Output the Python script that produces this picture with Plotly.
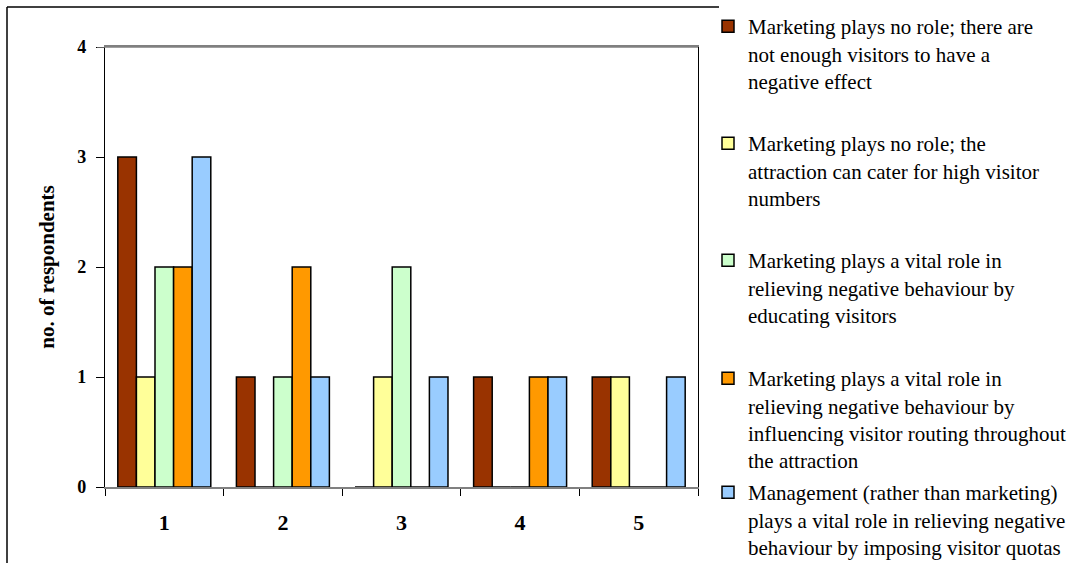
import plotly.graph_objects as go

# Survey categories (x axis) and the number of respondents per answer
categories = ["1", "2", "3", "4", "5"]

series_names = [
    "Marketing plays no role; there are<br>not enough visitors to have a<br>negative effect",
    "Marketing plays no role; the<br>attraction can cater for high visitor<br>numbers",
    "Marketing plays a vital role in<br>relieving negative behaviour by<br>educating visitors",
    "Marketing plays a vital role in<br>relieving negative behaviour by<br>influencing visitor routing throughout<br>the attraction",
    "Management (rather than marketing)<br>plays a vital role in relieving negative<br>behaviour by imposing visitor quotas",
]

no_role_few_visitors = [3, 1, 0, 1, 1]
no_role_high_capacity = [1, 0, 1, 0, 1]
educating_visitors = [2, 1, 2, 0, 0]
visitor_routing = [2, 2, 0, 1, 0]
visitor_quotas = [3, 1, 1, 1, 1]

series_values = [
    no_role_few_visitors,
    no_role_high_capacity,
    educating_visitors,
    visitor_routing,
    visitor_quotas,
]

colors = ["#993300", "#FFFF99", "#CCFFCC", "#FF9900", "#99CCFF"]

y_ticks = [0, 1, 2, 3, 4]

W, H = 1091, 563
FONT = "Liberation Serif, Times New Roman, serif"

# Vertical position (px from top) of each legend entry
legend_tops = [6, 123, 240, 358, 472]

fig = go.Figure()
for i, (name, vals, col) in enumerate(zip(series_names, series_values, colors)):
    fig.add_trace(go.Bar(
        x=categories,
        y=vals,
        name=name,
        marker=dict(color=col, line=dict(color="black", width=1.5)),
        legend="legend" if i == 0 else f"legend{i + 1}",
    ))

legend_common = dict(
    xref="container", yref="container",
    x=708 / W, xanchor="left", yanchor="top",
    font=dict(family=FONT, size=21, color="black"),
    bgcolor="rgba(0,0,0,0)",
    valign="top",
    itemwidth=30,
)

layout_legends = {}
for i, top in enumerate(legend_tops):
    key = "legend" if i == 0 else f"legend{i + 1}"
    layout_legends[key] = dict(legend_common, y=1 - top / H)

plot_l, plot_r, plot_t, plot_b = 105, 698, 47, 487

fig.update_layout(
    width=W, height=H,
    margin=dict(l=plot_l, r=W - plot_r, t=plot_t, b=H - plot_b, autoexpand=False),
    paper_bgcolor="white",
    plot_bgcolor="white",
    barmode="group",
    bargap=0.216,
    bargroupgap=0,
    font=dict(family=FONT, color="black"),
    showlegend=True,
    **layout_legends,
)

fig.update_xaxes(
    type="category",
    tickson="boundaries",
    ticks="outside", ticklen=7, tickwidth=1, tickcolor="#000000",
    showline=True, linecolor="#808080", linewidth=1.5, mirror=True,
    showgrid=False,
    tickfont=dict(family=FONT, size=22, color="black", weight="bold"),
    ticklabelstandoff=15,
)

fig.update_yaxes(
    range=[0, 4],
    tickvals=y_ticks,
    ticks="outside", ticklen=8, tickwidth=1, tickcolor="#000000",
    showline=True, linecolor="#000000", linewidth=1.2, mirror=True,
    showgrid=False, zeroline=False,
    tickfont=dict(family=FONT, size=18, color="black", weight="bold"),
    ticklabelstandoff=6,
    title=dict(text="no. of respondents",
               font=dict(family=FONT, size=21, color="black", weight="bold"),
               standoff=16),
)

# Gray top border of the plot area at the top tick
fig.add_shape(type="line", xref="paper", yref="y", x0=-8 / (plot_r - plot_l), x1=1,
              y0=4, y1=4, line=dict(color="#808080", width=1.5), layer="above")

# Outer chart frame (top and left edges)
pw, ph = plot_r - plot_l, plot_b - plot_t
def px_to_paper_x(px):
    return (px - plot_l) / pw

def px_to_paper_y(py):
    return (plot_b - py) / ph

fig.add_shape(type="line", xref="paper", yref="paper",
              x0=px_to_paper_x(7), x1=px_to_paper_x(719),
              y0=px_to_paper_y(7), y1=px_to_paper_y(7),
              line=dict(color="#000000", width=1.5))
fig.add_shape(type="line", xref="paper", yref="paper",
              x0=px_to_paper_x(7), x1=px_to_paper_x(7),
              y0=px_to_paper_y(7), y1=px_to_paper_y(570),
              line=dict(color="#000000", width=1.5))

fig.write_html("out.html")
